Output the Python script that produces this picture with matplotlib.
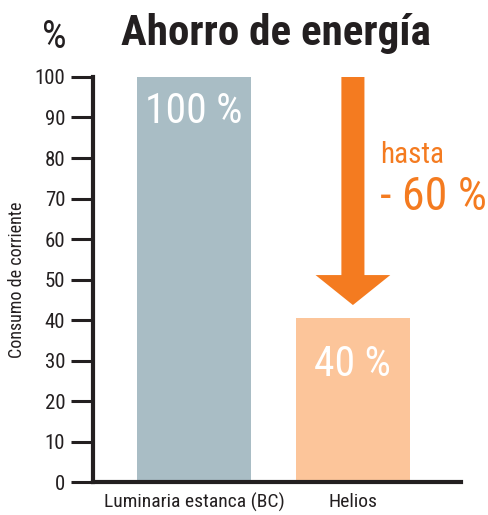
import matplotlib.pyplot as plt
from matplotlib import font_manager

# Data
categories = ['Luminaria estanca (BC)', 'Helios']
values = [100, 40.5]
bar_labels = ['100 %', '40 %']
bar_colors = ['#A9BDC5', '#FCC59A']
yticks = list(range(0, 101, 10))

names = {f.name for f in font_manager.fontManager.ttflist}
narrow = next((n for n in ['Roboto Condensed', 'Liberation Sans Narrow', 'Archivo Narrow',
                           'Asap Condensed', 'Barlow Condensed'] if n in names), 'DejaVu Sans')
plt.rcParams['font.family'] = [narrow, 'DejaVu Sans']

dark = '#231F20'
orange = '#F47B20'

fig = plt.figure(figsize=(4.88, 5.15), dpi=100)
ax = fig.add_axes([0.1906, 0.064, 0.7541, 0.7865])

x = list(range(len(categories)))
ax.bar(x, values, width=0.717, color=bar_colors, zorder=2)

for xi, v, lab in zip(x, values, bar_labels):
    ty = 91.6 if v > 90 else v - 11.6
    ax.text(xi, ty, lab, ha='center', va='center', color='white', fontsize=30)

# reduction arrow
ax.arrow(1, 100, 0, -(100 - 43.7), width=0.145, head_width=0.47, head_length=7.4,
         length_includes_head=True, color=orange, lw=0, zorder=3)
ax.text(1.17, 80.7, 'hasta', color=orange, fontsize=21, ha='left', va='center')
ax.text(1.17, 70.4, '- 60 %', color=orange, fontsize=33, ha='left', va='center')

ax.set_xlim(-0.635, 1.68)
ax.set_ylim(0, 100)
ax.set_yticks(yticks)
ax.set_xticks(x)
ax.set_xticklabels(categories, fontsize=14, color=dark)
ax.tick_params(axis='x', length=0, pad=8)
ax.tick_params(axis='y', length=16, width=2.2, color=dark, labelsize=15, labelcolor=dark, pad=4)

for s in ['top', 'right']:
    ax.spines[s].set_visible(False)
for s in ['left', 'bottom']:
    ax.spines[s].set_linewidth(3)
    ax.spines[s].set_color(dark)
    ax.spines[s].set_capstyle('projecting')

ax.set_ylabel('Consumo de corriente', fontsize=13, color=dark, labelpad=6)

fig.text(0.565, 0.935, 'Ahorro de energía', fontsize=31, fontweight='bold',
         color=dark, ha='center', va='center')
fig.text(0.112, 0.928, '%', fontsize=28, color=dark, ha='center', va='center')

fig.savefig('out.png', dpi=100)
